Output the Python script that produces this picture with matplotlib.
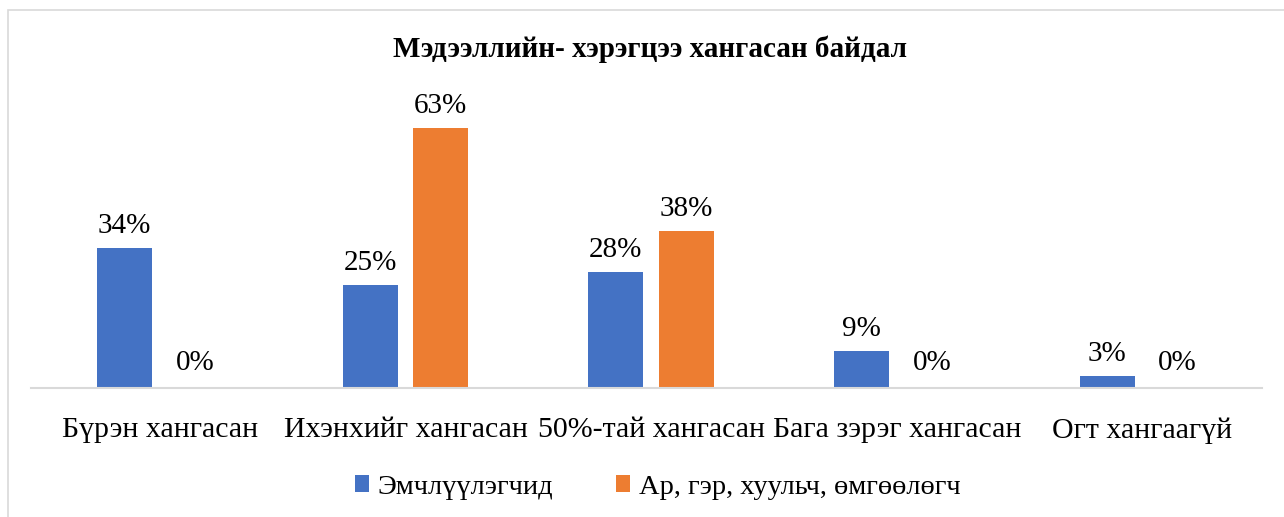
import matplotlib.pyplot as plt
import numpy as np
from matplotlib.patches import Rectangle

plt.rcParams['font.family'] = ['Liberation Serif', 'DejaVu Serif']

categories = ['Бүрэн хангасан', 'Ихэнхийг хангасан', '50%-тай хангасан',
              'Бага зэрэг хангасан', 'Огт хангаагүй']
patients = [34, 25, 28, 9, 3]
family = [0, 63, 38, 0, 0]
series_names = ['Эмчлүүлэгчид', 'Ар, гэр, хуульч, өмгөөлөгч']
title = 'Мэдээллийн- хэрэгцээ хангасан байдал'

blue = '#4472C4'
orange = '#ED7D31'

fig = plt.figure(figsize=(12.84, 5.17), dpi=100)
ax = fig.add_axes([0.024, 0.2495, 0.959, 0.559])

x = np.arange(len(categories))
w = 0.224
off = 0.1436
b1 = ax.bar(x - off, patients, w, color=blue, label=series_names[0])
b2 = ax.bar(x + off, family, w, color=orange, label=series_names[1])

for rects, vals in ((b1, patients), (b2, family)):
    for r, v in zip(rects, vals):
        if v > 0:
            ax.text(r.get_x() + r.get_width() / 2, v + 2.2, f'{v}%',
                    ha='center', va='bottom', fontsize=21)
        else:
            ax.text(r.get_x() + r.get_width() / 2, 6.0, f'{v}%',
                    ha='center', va='center', fontsize=21)

ax.set_xlim(-0.526, 4.488)
ax.set_ylim(0, 70)
ax.set_yticks([])
ax.set_xticks(x)
ax.set_xticklabels(categories, fontsize=21.5)
ax.tick_params(axis='x', length=0, pad=21)
for s in ['top', 'right', 'left']:
    ax.spines[s].set_visible(False)
ax.spines['bottom'].set_color('#D9D9D9')
ax.spines['bottom'].set_linewidth(1.5)

fig.text(0.506, 0.905, title, ha='center', va='center', fontsize=21,
         fontweight='bold')

fig.legend(loc='center', bbox_to_anchor=(0.512, 0.058), ncol=2, frameon=False,
           fontsize=20.5, handlelength=0.5, handleheight=0.55, handletextpad=0.3,
           columnspacing=2.2)

# chart area border
fig.patches.append(Rectangle((8 / 1284, -0.1), 1.2, 1 - 10 / 517 + 0.1,
                             transform=fig.transFigure, fill=False,
                             edgecolor='#D9D9D9', linewidth=1.2))

fig.savefig('out.png', dpi=100)
